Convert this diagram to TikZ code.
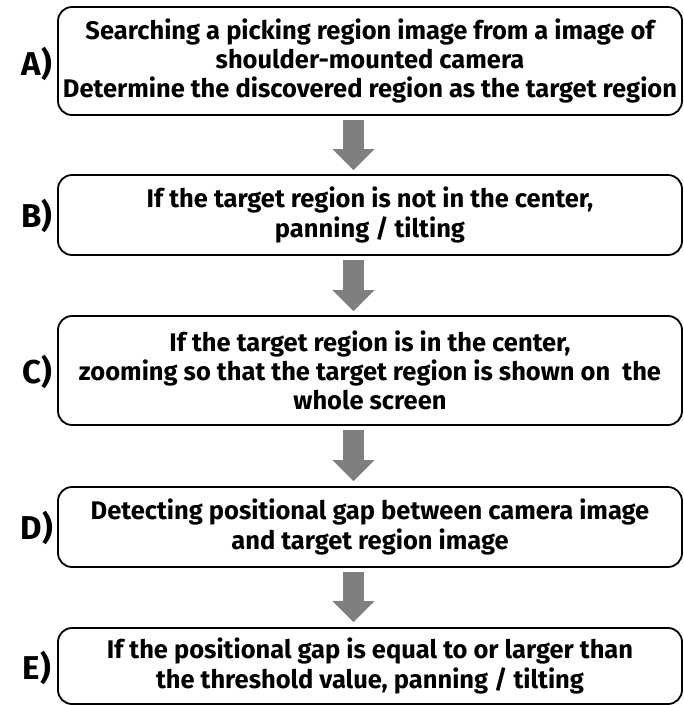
\documentclass[tikz,border=0pt]{standalone}
\usepackage{fontspec}
\setmainfont{Fira Sans}[BoldFont={Fira Sans Bold}]
\usetikzlibrary{arrows.meta}
\definecolor{arrowgray}{HTML}{7F7F7F}
\tikzset{
  stepbox/.style={draw=black, line width=1.8pt, rounded corners=14pt, fill=white,
    minimum width=624pt, align=center, inner sep=0pt,
    font=\bfseries\fontsize{25.5}{29.2}\selectfont,
    execute at begin node={\rule{0pt}{24pt}}},
  steplabel/.style={font=\bfseries\fontsize{33}{35}\selectfont, inner sep=0pt},
  blockarrow/.style={draw=arrowgray, line width=21pt,
    -{Triangle[width=41pt,length=21pt,fill=arrowgray]}},
}
\begin{document}
\begin{tikzpicture}[x=1pt,y=-1pt]
\useasboundingbox (0,0) rectangle (684,705);
\node[stepbox, minimum height=108pt] (A) at (370,61) {Searching a picking region image from a image of\\ shoulder-mounted camera\\ Determine the discovered region as the target region};
\node[stepbox, minimum height=80pt] (B) at (370,215) {If the target region is not in the center,\\ panning / tilting};
\node[stepbox, minimum height=109pt] (C) at (370,370.5) {If the target region is in the center,\\ zooming so that the target region is shown on\ \ the\\ whole screen};
\node[stepbox, minimum height=80pt] (D) at (370,527) {Detecting positional gap between camera image\\ and target region image};
\node[stepbox, minimum height=76pt] (E) at (370,666) {If the positional gap is equal to or larger than\\ the threshold value, panning / tilting};
\node[steplabel] (LA) at (37,64) {A)};
\node[steplabel] (LB) at (37,216) {B)};
\node[steplabel] (LC) at (37,372) {C)};
\node[steplabel] (LD) at (37,528) {D)};
\node[steplabel] (LE) at (37,668) {E)};
\coordinate (ax) at (353.5,0);
\draw[blockarrow] ([yshift=-4pt]A.south -| ax) -- ([yshift=4pt]B.north -| ax);
\draw[blockarrow] ([yshift=-4pt]B.south -| ax) -- ([yshift=4pt]C.north -| ax);
\draw[blockarrow] ([yshift=-4pt]C.south -| ax) -- ([yshift=5pt]D.north -| ax);
\draw[blockarrow] ([yshift=-4pt]D.south -| ax) -- ([yshift=5pt]E.north -| ax);
\end{tikzpicture}
\end{document}
